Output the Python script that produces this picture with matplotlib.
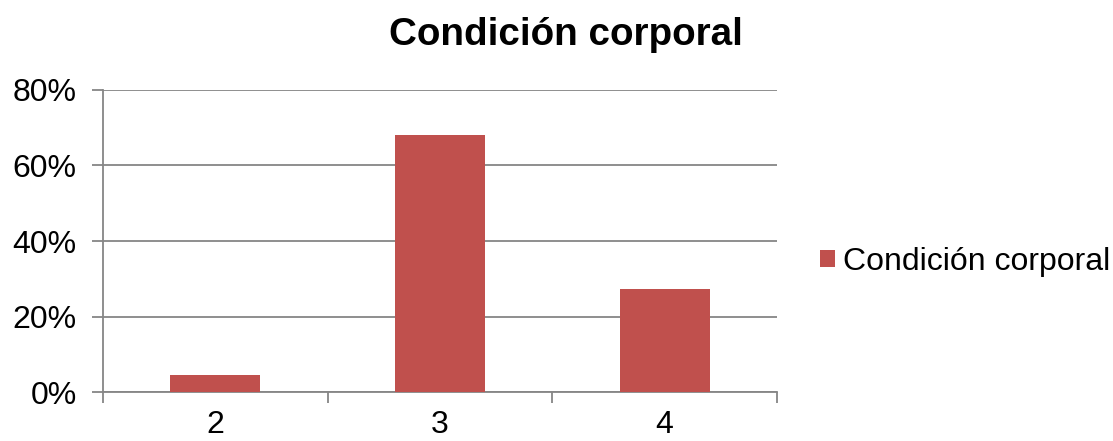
import matplotlib.pyplot as plt
from matplotlib.ticker import FuncFormatter

# Body condition score distribution
categories = ["2", "3", "4"]
shares = [4.5, 68.2, 27.3]
series_name = "Condición corporal"

plt.rcParams['font.family'] = ['Liberation Sans', 'DejaVu Sans']

fig = plt.figure(figsize=(11.13, 4.41), dpi=100)
ax = fig.add_axes([0.0925, 0.111, 0.6056, 0.685])

grid_color = '#868686'
bar_color = '#C0504D'

positions = list(range(len(categories)))
ax.bar(positions, shares, width=0.4, color=bar_color, label=series_name, zorder=3)

ax.set_xlim(-0.5, len(categories) - 0.5)
ax.set_ylim(0, 80)
ax.set_yticks([0, 20, 40, 60, 80])
ax.yaxis.set_major_formatter(FuncFormatter(lambda v, _: f"{v:.0f}%"))
ax.yaxis.grid(True, color=grid_color, linewidth=1.3, zorder=0)

# category boundaries carry the tick marks, labels sit at the centres
ax.set_xticks([p - 0.5 for p in positions] + [positions[-1] + 0.5])
ax.set_xticklabels([])
ax.set_xticks(positions, minor=True)
ax.set_xticklabels(categories, minor=True)
ax.tick_params(axis='x', which='major', length=8, width=1.3, color=grid_color, direction='out')
ax.tick_params(axis='x', which='minor', length=0, pad=13, labelsize=23)
ax.tick_params(axis='y', length=8, width=1.3, color=grid_color, labelsize=23, pad=11)

for side in ['top', 'right']:
    ax.spines[side].set_visible(False)
for side in ['left', 'bottom']:
    ax.spines[side].set_color(grid_color)
    ax.spines[side].set_linewidth(1.3)

fig.text(566 / 1113, 1 - 35 / 441, series_name, fontsize=27.8, fontweight='bold',
         ha='center', va='center')

fig.legend(*ax.get_legend_handles_labels(), loc='center left',
           bbox_to_anchor=(820 / 1113, 1 - 262 / 441), frameon=False,
           borderpad=0, borderaxespad=0,
           fontsize=23, handlelength=0.47, handleheight=0.47, handletextpad=0.25)

fig.savefig("out.png", dpi=100)
